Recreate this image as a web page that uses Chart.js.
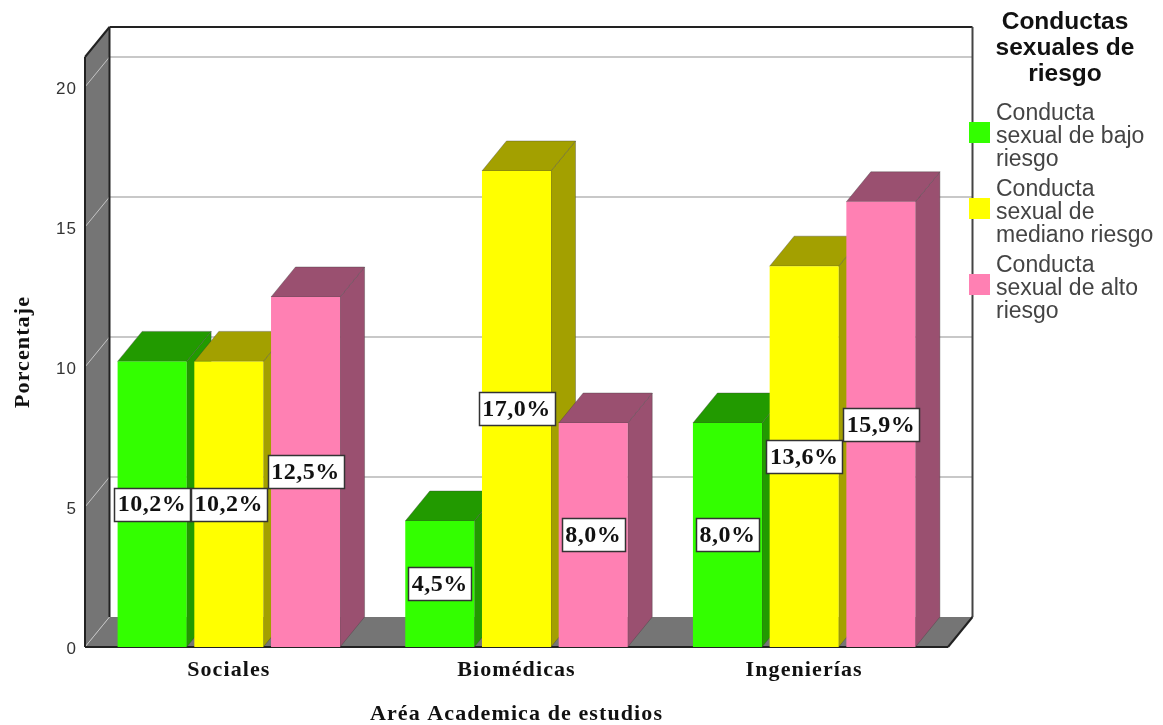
<!DOCTYPE html>
<html lang="es">
<head>
<meta charset="utf-8">
<title>Conductas sexuales de riesgo</title>
<script src="https://cdn.jsdelivr.net/npm/chart.js@4"></script>
<style>
  html, body { margin: 0; padding: 0; background: #fff; }
  canvas { display: block; }
</style>
</head>
<body>
<canvas id="chart" width="1163" height="725"></canvas>
<script>
const areas = ["Sociales", "Biomédicas", "Ingenierías"];
const bajoRiesgo = [10.2, 4.5, 8.0];
const medianoRiesgo = [10.2, 17.0, 13.6];
const altoRiesgo = [12.5, 8.0, 15.9];

const serieNames = ["Conducta sexual de bajo riesgo", "Conducta sexual de mediano riesgo", "Conducta sexual de alto riesgo"];
const legendLines = [
    ["Conducta", "sexual de bajo", "riesgo"],
    ["Conducta", "sexual de", "mediano riesgo"],
    ["Conducta", "sexual de alto", "riesgo"]
];
const legendTitle = ["Conductas", "sexuales de", "riesgo"];

const frontColors = ["#33ff00", "#ffff00", "#ff80b3"];
const sideColors = ["#229a00", "#a3a000", "#9a5070"];

const yMax = 21.07;
const depthX = 24.5;
const depthY = 30;
const wallGrey = "#757575";
const frameDark = "#222";

const formatPercent = (value) => `${value.toFixed(1).replace(".", ",")}%`;

const polygon = (ctx, points, fill, stroke, lineWidth) => {
    ctx.beginPath();
    points.forEach(([x, y], i) => (i ? ctx.lineTo(x, y) : ctx.moveTo(x, y)));
    ctx.closePath();
    if (fill) {
        ctx.fillStyle = fill;
        ctx.fill();
    }
    if (stroke) {
        ctx.strokeStyle = stroke;
        ctx.lineWidth = lineWidth || 1;
        ctx.stroke();
    }
};

const line = (ctx, x1, y1, x2, y2, color, lineWidth) => {
    ctx.beginPath();
    ctx.moveTo(x1, y1);
    ctx.lineTo(x2, y2);
    ctx.strokeStyle = color;
    ctx.lineWidth = lineWidth;
    ctx.stroke();
};

// back wall, left wall, floor and the grid that runs over them,
// then the side and top faces of every bar left to right
const wallsPlugin = {
    id: "walls",
    beforeDraw(chart) {
        // axis text is spaced out a little, the legend and value boxes set their own
        chart.ctx.letterSpacing = "1.1px";
    },
    beforeDatasetsDraw(chart) {
        const { ctx, chartArea: { left, right, top, bottom }, scales: { y } } = chart;
        ctx.save();
        polygon(ctx, [[left, top], [left + depthX, top - depthY], [left + depthX, bottom - depthY], [left, bottom]], wallGrey);
        polygon(ctx, [[left, bottom], [left + depthX, bottom - depthY], [right + depthX, bottom - depthY], [right, bottom]], wallGrey);

        y.ticks.forEach((tick) => {
            const py = y.getPixelForValue(tick.value);
            line(ctx, left, py, left + depthX, py - depthY, "#c4c4c4", 1);
            if (tick.value > 0) {
                line(ctx, left + depthX, py - depthY, right + depthX, py - depthY, "#c8c8c8", 2);
            }
        });

        line(ctx, left + depthX, top - depthY, right + depthX, top - depthY, frameDark, 2);
        line(ctx, right + depthX, top - depthY, right + depthX, bottom - depthY, "#444", 2);
        line(ctx, left + depthX, top - depthY, left + depthX, bottom - depthY, frameDark, 2);
        line(ctx, left, top, left + depthX, top - depthY, frameDark, 2);
        line(ctx, left, top, left, bottom, frameDark, 2);
        line(ctx, right, bottom, right + depthX, bottom - depthY, frameDark, 2);
        line(ctx, left, bottom, right, bottom, frameDark, 2);

        chart.data.datasets.forEach((dataset, i) => {
            const side = sideColors[i];
            chart.getDatasetMeta(i).data.forEach((bar) => {
                const x0 = bar.x - bar.width / 2;
                const x1 = bar.x + bar.width / 2;
                polygon(ctx, [[x1, bar.y], [x1 + depthX, bar.y - depthY], [x1 + depthX, bar.base - depthY], [x1, bar.base]], side, "rgba(60,60,60,0.35)", 1);
                polygon(ctx, [[x0, bar.y], [x0 + depthX, bar.y - depthY], [x1 + depthX, bar.y - depthY], [x1, bar.y]], side, "rgba(60,60,60,0.35)", 1);
            });
        });
        ctx.restore();
    },
    // value boxes sit at the middle of each bar, above everything else
    afterDatasetsDraw(chart) {
        const { ctx } = chart;
        ctx.save();
        ctx.font = 'bold 24px "Liberation Serif"';
        ctx.letterSpacing = "0.5px";
        ctx.textAlign = "center";
        ctx.textBaseline = "middle";
        chart.data.datasets.forEach((dataset, i) => {
            chart.getDatasetMeta(i).data.forEach((bar, j) => {
                const text = formatPercent(dataset.data[j]);
                const w = Math.round(ctx.measureText(text).width) + 7;
                const h = 33;
                const cy = (bar.y + bar.base) / 2;
                const bx = Math.round(bar.x - w / 2) + 0.5;
                const by = Math.round(cy - h / 2) + 0.5;
                ctx.fillStyle = "#fff";
                ctx.fillRect(bx, by, w, h);
                ctx.strokeStyle = "#333";
                ctx.lineWidth = 1.5;
                ctx.strokeRect(bx, by, w, h);
                ctx.fillStyle = "#111";
                ctx.fillText(text, bar.x, cy + 1);
            });
        });
        ctx.restore();
    }
};

// three-line entries with the title stacked above them
const legendPlugin = {
    id: "stackedLegend",
    afterDraw(chart) {
        const { ctx } = chart;
        ctx.save();
        ctx.letterSpacing = "0px";
        ctx.textBaseline = "middle";
        ctx.textAlign = "center";
        ctx.fillStyle = "#111";
        ctx.font = 'bold 24.5px "Liberation Sans"';
        legendTitle.forEach((text, i) => ctx.fillText(text, 1065, 22 + i * 26));

        ctx.textAlign = "left";
        ctx.font = '23px "Liberation Sans"';
        legendLines.forEach((lines, i) => {
            const top = 113 + i * 76;
            ctx.fillStyle = chart.data.datasets[i].backgroundColor;
            ctx.fillRect(969, top + 9, 21, 21);
            ctx.fillStyle = "#444";
            lines.forEach((text, k) => ctx.fillText(text, 996, top + 1 + k * 23));
        });
        ctx.restore();
    }
};

const createChart = () => {
    const ctx = document.querySelector("canvas#chart");

    new Chart(ctx, {
        type: "bar",
        data: {
            labels: areas,
            datasets: [
                { label: serieNames[0], data: bajoRiesgo, backgroundColor: frontColors[0] },
                { label: serieNames[1], data: medianoRiesgo, backgroundColor: frontColors[1] },
                { label: serieNames[2], data: altoRiesgo, backgroundColor: frontColors[2] }
            ]
        },
        options: {
            responsive: false,
            animation: false,
            layout: { padding: { top: 57, right: 215, bottom: 0, left: 0 } },
            plugins: {
                legend: { display: false },
                tooltip: { enabled: false }
            },
            scales: {
                x: {
                    afterFit: (scale) => { scale.height = 78; },
                    grid: { display: false },
                    border: { display: false },
                    ticks: {
                        color: "#111",
                        padding: 2,
                        maxRotation: 0,
                        font: { family: "Liberation Serif", size: 22, weight: "bold" }
                    },
                    title: {
                        display: true,
                        text: "Aréa Academica de estudios",
                        color: "#111",
                        padding: { top: 0, bottom: -3 },
                        font: { family: "Liberation Serif", size: 22, weight: "bold" }
                    }
                },
                y: {
                    min: 0,
                    max: yMax,
                    afterFit: (scale) => { scale.width = 85; },
                    grid: { display: false },
                    border: { display: false },
                    ticks: {
                        stepSize: 5,
                        includeBounds: false,
                        color: "#333",
                        padding: 0,
                        labelOffset: 2,
                        font: { family: "Liberation Sans", size: 17 }
                    },
                    title: {
                        display: true,
                        text: "Porcentaje",
                        color: "#111",
                        padding: { top: 10, bottom: 0 },
                        font: { family: "Liberation Serif", size: 22, weight: "bold" }
                    }
                }
            }
        },
        plugins: [wallsPlugin, legendPlugin]
    });
};

createChart();
</script>
</body>
</html>
